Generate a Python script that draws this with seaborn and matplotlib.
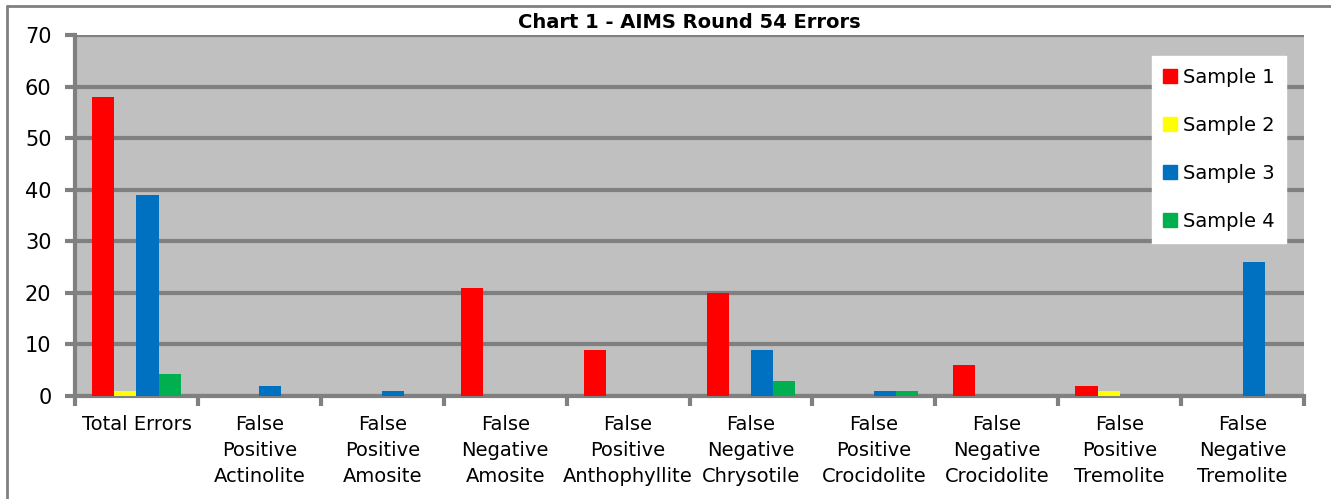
import pandas as pd
import matplotlib.pyplot as plt
import seaborn as sns
from matplotlib.lines import Line2D

# chart data
categories = ['Total Errors', 'False\nPositive\nActinolite', 'False\nPositive\nAmosite',
              'False\nNegative\nAmosite', 'False\nPositive\nAnthophyllite',
              'False\nNegative\nChrysotile', 'False\nPositive\nCrocidolite',
              'False\nNegative\nCrocidolite', 'False\nPositive\nTremolite',
              'False\nNegative\nTremolite']
sample_1 = [58, 0, 0, 21, 9, 20, 0, 6, 2, 0]
sample_2 = [1, 0, 0, 0, 0, 0, 0, 0, 1, 0]
sample_3 = [39, 2, 1, 0, 0, 9, 1, 0, 0, 26]
sample_4 = [4.3, 0, 0, 0, 0, 3, 1, 0, 0, 0]
series = ['Sample 1', 'Sample 2', 'Sample 3', 'Sample 4']
colors = ['#FF0000', '#FFFF00', '#0070C0', '#00B050']

rows = []
for name, vals in zip(series, [sample_1, sample_2, sample_3, sample_4]):
    for cat, v in zip(categories, vals):
        rows.append({'category': cat, 'sample': name, 'errors': v})
df = pd.DataFrame(rows)

sns.set_style('white')
plt.rcParams['font.family'] = ['DejaVu Sans']
plt.rcParams['text.color'] = 'black'

fig = plt.figure(figsize=(13.31, 4.99), dpi=100)
ax = fig.add_axes([75 / 1331, 1 - 396 / 499, (1304 - 75) / 1331, (396 - 35) / 499])
ax.set_facecolor('#C0C0C0')

sns.barplot(data=df, x='category', y='errors', hue='sample', palette=colors,
            width=0.72, gap=0, ax=ax, legend=False, saturation=1,
            linewidth=0, edgecolor='none')

ax.set_ylim(0, 70)
ax.set_yticks(range(0, 71, 10))
ax.set_xlim(-0.5, len(categories) - 0.5)
ax.yaxis.grid(True, color='#808080', linewidth=3)
ax.set_axisbelow(True)
for s in ['top', 'right']:
    ax.spines[s].set_visible(False)
for s in ['left', 'bottom']:
    ax.spines[s].set_color('#808080')
    ax.spines[s].set_linewidth(3)
    ax.spines[s].set_zorder(0.5)

# boundary ticks between categories like Excel
ax.set_xticks([i - 0.5 for i in range(len(categories) + 1)], minor=True)
ax.tick_params(axis='x', which='minor', bottom=True, length=7, width=3, color='#808080')
ax.tick_params(axis='x', which='major', bottom=True, length=0, labelsize=14,
               labelcolor='black', pad=14)
ax.tick_params(axis='y', left=True, length=7, width=3, color='#808080', labelsize=15,
               labelcolor='black', pad=10)
for lbl in ax.get_xticklabels():
    lbl.set_linespacing(1.45)
ax.set_xlabel('')
ax.set_ylabel('')

ax.set_title('Chart 1 - AIMS Round 54 Errors', fontsize=14, fontweight='bold',
             color='black', pad=5)

handles = [Line2D([], [], marker='s', linestyle='', markersize=10,
                  markerfacecolor=c, markeredgecolor=c) for c in colors]
leg = ax.legend(handles, series, loc='upper right', bbox_to_anchor=(0.9854, 0.9418),
                fontsize=14, frameon=True, fancybox=False, labelspacing=1.5,
                handletextpad=0.3, borderpad=0.6, handlelength=0.7,
                borderaxespad=0, framealpha=1)
leg.get_frame().set_facecolor('white')
leg.get_frame().set_edgecolor('white')
for t in leg.get_texts():
    t.set_color('black')

# outer chart border
fig.add_artist(Line2D([7 / 1331, 7 / 1331], [0, 1 - 5.5 / 499], color='#808080', linewidth=2))
fig.add_artist(Line2D([7 / 1331, 1], [1 - 5.5 / 499, 1 - 5.5 / 499], color='#808080', linewidth=2))

fig.savefig('out.png', dpi=100)
